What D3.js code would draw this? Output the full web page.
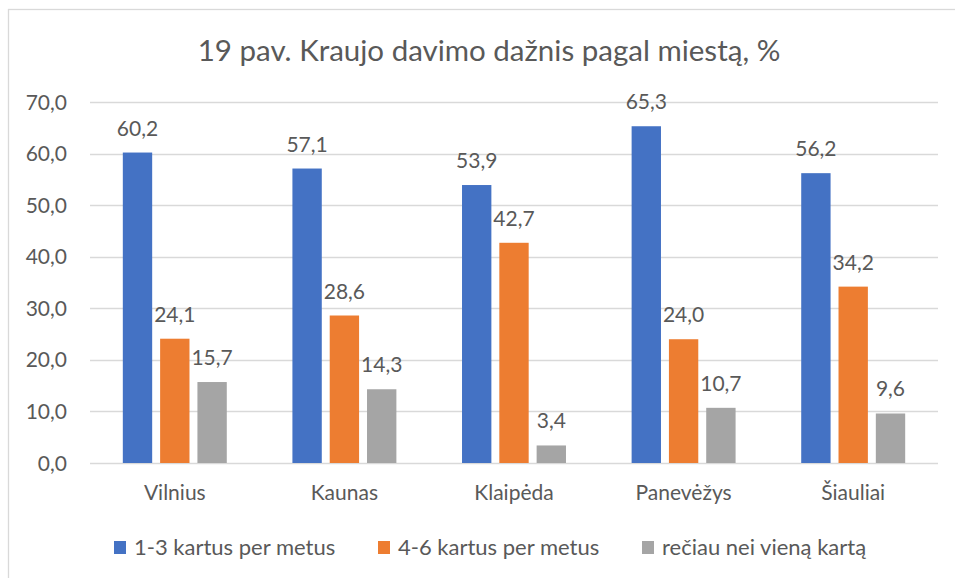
<!DOCTYPE html>
<html><head><meta charset="utf-8">
<script src="https://cdn.jsdelivr.net/npm/d3@7"></script>
<style>html,body{margin:0;padding:0;background:#fff;} text{font-family:Lato, "Open Sans", sans-serif; fill:#595959;}</style>
</head><body>
<svg id="c" width="955" height="578"></svg>
<script>
const categories = ["Vilnius","Kaunas","Klaipėda","Panevėžys","Šiauliai"];
const seriesNames = ["1-3 kartus per metus","4-6 kartus per metus","rečiau nei vieną kartą"];
const s1 = [60.2,57.1,53.9,65.3,56.2];
const s2 = [24.1,28.6,42.7,24.0,34.2];
const s3 = [15.7,14.3,3.4,10.7,9.6];
const yTicks = [0,10,20,30,40,50,60,70];
const colors = ["#4472C4","#ED7D31","#A5A5A5"];
const seriesValues = [s1,s2,s3];

const svg = d3.select("#c");
const fmt = v => v.toFixed(1).replace(".", ",");

// chart frame
svg.append("rect").attr("x",8.5).attr("y",9.5).attr("width",970).attr("height",600)
  .attr("fill","none").attr("stroke","#D9D9D9").attr("stroke-width",1.3);

const L=90, R=938, T=102, B=463;
const y = d3.scaleLinear().domain([0,70]).range([B,T]);
const x0 = d3.scaleBand().domain(categories).range([L,R]).paddingInner(0.387).paddingOuter(0.1935);
const x1 = d3.scaleBand().domain(seriesNames).range([0,x0.bandwidth()]).paddingInner(0.213);

// gridlines
svg.append("g").selectAll("line").data(yTicks).join("line")
  .attr("x1",L).attr("x2",R).attr("y1",d=>Math.round(y(d))+0.5).attr("y2",d=>Math.round(y(d))+0.5)
  .attr("stroke","#D9D9D9").attr("stroke-width",1.3);

// y tick labels
svg.append("g").selectAll("text").data(yTicks).join("text")
  .attr("x",67).attr("y",d=>y(d)).attr("dy","0.36em").attr("text-anchor","end")
  .style("font-size","21px").text(d=>fmt(d));

// bars
const rows = [];
categories.forEach((c,i)=>seriesNames.forEach((s,j)=>rows.push({c,s,j,v:seriesValues[j][i]})));
svg.append("g").selectAll("rect").data(rows).join("rect")
  .attr("x",d=>x0(d.c)+x1(d.s)).attr("width",x1.bandwidth())
  .attr("y",d=>y(d.v)).attr("height",d=>B-y(d.v)).attr("fill",d=>colors[d.j]);

// data labels
svg.append("g").selectAll("text").data(rows).join("text")
  .attr("x",d=>x0(d.c)+x1(d.s)+x1.bandwidth()/2).attr("y",d=>y(d.v)-17)
  .attr("text-anchor","middle").style("font-size","21px").text(d=>fmt(d.v));

// category labels
svg.append("g").selectAll("text").data(categories).join("text")
  .attr("x",d=>x0(d)+x0.bandwidth()/2).attr("y",500).attr("text-anchor","middle")
  .style("font-size","21px").text(d=>d);

// title
svg.append("text").attr("x",489).attr("y",61).attr("text-anchor","middle")
  .style("font-size","29.5px").text("19 pav. Kraujo davimo dažnis pagal miestą, %");

// legend
const legX = [114,378,642];
const lg = svg.append("g").selectAll("g").data(seriesNames).join("g")
  .attr("transform",(d,i)=>`translate(${legX[i]},0)`);
lg.append("rect").attr("x",0).attr("y",541).attr("width",12).attr("height",13).attr("fill",(d,i)=>colors[i]);
lg.append("text").attr("x",20).attr("y",555).style("font-size","22px").text(d=>d);
</script>
</body></html>
